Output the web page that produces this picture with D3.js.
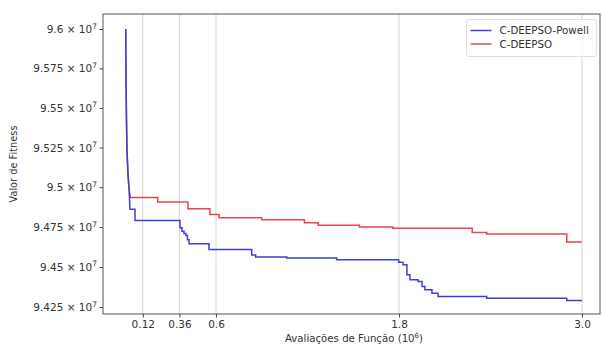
<!DOCTYPE html>
<html>
<head>
<meta charset="utf-8">
<script src="https://cdn.jsdelivr.net/npm/d3@7"></script>
<style>
  body { margin: 0; background: #fff; }
  svg text { font-family: "DejaVu Sans", sans-serif; fill: #333; }
</style>
</head>
<body>
<div id="container"></div>
<script>
// function evaluations in units of 10^6, fitness in units of 10^7
const xTicks = [0.12, 0.36, 0.6, 1.8, 3.0];
const xTickLabels = ["0.12", "0.36", "0.6", "1.8", "3.0"];
const yTicks = [9.425, 9.45, 9.475, 9.5, 9.525, 9.55, 9.575, 9.6];
const yTickLabels = ["9.425", "9.45", "9.475", "9.5", "9.525", "9.55", "9.575", "9.6"];
const seriesNames = ["C-DEEPSO-Powell", "C-DEEPSO"];

// initial fast descent, shared by both runs (evaluations, fitness)
const dropStart = [[0.008, 9.6], [0.010, 9.5679], [0.013, 9.5427], [0.016, 9.5238], [0.023, 9.5081], [0.030, 9.4987]];

// after the descent each curve keeps its best value: [from evaluation, fitness]
const powellSteps = [[0.036, 9.4861], [0.069, 9.4791], [0.364, 9.4745], [0.377, 9.4724], [0.390, 9.4710],
  [0.403, 9.4697], [0.413, 9.4670], [0.423, 9.4645], [0.554, 9.4609], [0.834, 9.4575], [0.860, 9.4563],
  [1.064, 9.4556], [1.391, 9.4545], [1.798, 9.4530], [1.826, 9.4514], [1.852, 9.4451], [1.872, 9.4420],
  [1.925, 9.4409], [1.951, 9.4378], [1.970, 9.4357], [2.016, 9.4336], [2.056, 9.4315], [2.375, 9.4305],
  [2.900, 9.4290]];
const deepsoSteps = [[0.039, 9.4936], [0.218, 9.4907], [0.416, 9.4865], [0.560, 9.4829], [0.620, 9.4808],
  [0.900, 9.4796], [1.180, 9.4777], [1.270, 9.4762], [1.540, 9.4751], [1.760, 9.4743], [2.280, 9.4716],
  [2.375, 9.4707], [2.900, 9.4657]];
const lastEval = 3.0;

const colors = ["#3f3fd6", "#e8444e"];

const width = 603, height = 349;
const plot = { left: 103, right: 600, top: 14, bottom: 314 };

const svg = d3.select("#container").append("svg")
  .attr("width", width)
  .attr("height", height);

const x = d3.scaleLinear().domain([0, 3.0]).range([124.5, 582]);
const y = d3.scaleLog().domain([9.425, 9.6]).range([307, 29]);

// vertical grid at x ticks
svg.append("g")
  .selectAll("line")
  .data(xTicks)
  .join("line")
  .attr("x1", d => x(d)).attr("x2", d => x(d))
  .attr("y1", plot.top).attr("y2", plot.bottom)
  .attr("stroke", "#d0d0d0")
  .attr("stroke-width", 0.9);

// turn step list into corner points
function stepPoints(steps) {
  const pts = [];
  steps.forEach((s, i) => {
    if (i > 0) pts.push([s[0], steps[i - 1][1]]);
    pts.push(s);
  });
  pts.push([lastEval, steps[steps.length - 1][1]]);
  return pts;
}

const line = d3.line().x(d => x(d[0])).y(d => y(d[1]));
const curves = [dropStart.concat(stepPoints(powellSteps)), dropStart.concat(stepPoints(deepsoSteps))];

// draw red first so blue sits on top in the shared part
[1, 0].forEach(i => {
  svg.append("path")
    .datum(curves[i])
    .attr("d", line)
    .attr("fill", "none")
    .attr("stroke", colors[i])
    .attr("stroke-width", 1.5);
});

// frame
svg.append("rect")
  .attr("x", plot.left).attr("y", plot.top)
  .attr("width", plot.right - plot.left).attr("height", plot.bottom - plot.top)
  .attr("fill", "none").attr("stroke", "#444").attr("stroke-width", 0.9);

// x axis
const xAxis = svg.append("g")
  .attr("transform", `translate(0,${plot.bottom})`)
  .call(d3.axisBottom(x).tickValues(xTicks).tickFormat((d, i) => xTickLabels[i]).tickSize(3.5).tickPadding(3));
xAxis.select(".domain").remove();
xAxis.selectAll("line").attr("stroke", "#444");
xAxis.selectAll("text").attr("font-size", 10.5).attr("font-family", "DejaVu Sans").attr("fill", "#333");

// y axis with scientific labels
const yAxis = svg.append("g")
  .attr("transform", `translate(${plot.left},0)`)
  .call(d3.axisLeft(y).tickValues(yTicks).tickFormat(() => "").tickSize(3.5));
yAxis.select(".domain").remove();
yAxis.selectAll("line").attr("stroke", "#444");

const yLab = svg.append("g").selectAll("text")
  .data(yTicks)
  .join("text")
  .attr("x", plot.left - 6)
  .attr("y", d => y(d) + 4)
  .attr("text-anchor", "end")
  .attr("font-size", 10.5);
yLab.append("tspan").text((d, i) => yTickLabels[i] + " \u00d7 10");
yLab.append("tspan").attr("dy", -4.5).attr("font-size", 7.5).text("7");

// axis titles
const xTitle = svg.append("text")
  .attr("x", 354).attr("y", 342)
  .attr("text-anchor", "middle")
  .attr("font-size", 10.2);
xTitle.append("tspan").text("Avaliações de Função (10");
xTitle.append("tspan").attr("dy", -4).attr("font-size", 7).text("6");
xTitle.append("tspan").attr("dy", 4).text(")");

svg.append("text")
  .attr("transform", `translate(17,${(plot.top + plot.bottom) / 2}) rotate(-90)`)
  .attr("text-anchor", "middle")
  .attr("font-size", 9.8)
  .text("Valor de Fitness");

// legend
const legend = svg.append("g");
legend.append("rect")
  .attr("x", 466.5).attr("y", 19.5).attr("width", 130).attr("height", 37)
  .attr("rx", 2.5)
  .attr("fill", "#fff").attr("fill-opacity", 0.8)
  .attr("stroke", "#ddd").attr("stroke-width", 0.9);
seriesNames.forEach((name, i) => {
  const ly = 30.5 + i * 13.5;
  legend.append("line")
    .attr("x1", 470.5).attr("x2", 491.5).attr("y1", ly).attr("y2", ly)
    .attr("stroke", colors[i]).attr("stroke-width", 1.5);
  legend.append("text")
    .attr("x", 499.5).attr("y", ly + 3.7)
    .attr("font-size", 10.3)
    .text(name);
});
</script>
</body>
</html>
